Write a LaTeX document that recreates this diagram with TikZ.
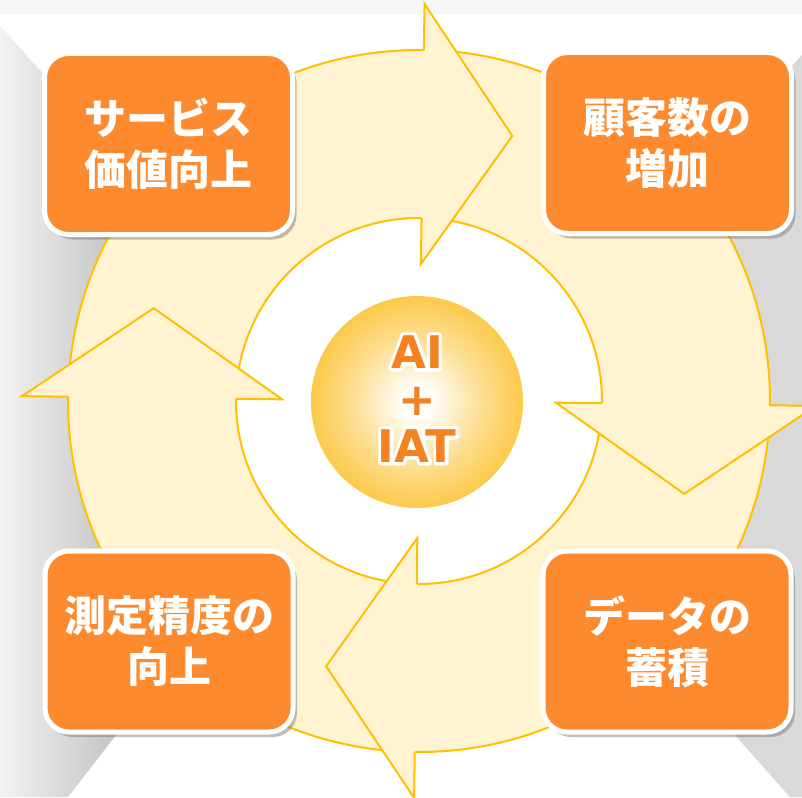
\documentclass[tikz,border=0pt]{standalone}
\usepackage{fontspec}
\setmainfont{DejaVu Sans}
\newfontfamily\jpfont{Noto Sans CJK JP}
\usetikzlibrary{shadows}
\definecolor{cream}{RGB}{255,243,209}
\definecolor{ringline}{RGB}{255,192,0}
\definecolor{boxorange}{RGB}{253,138,46}
\definecolor{txtorange}{RGB}{245,130,32}
\definecolor{ballgold}{RGB}{251,186,24}
\definecolor{wallL}{RGB}{243,243,243}
\definecolor{wallR}{RGB}{196,196,196}
\definecolor{wallG}{RGB}{217,217,217}
\definecolor{topband}{RGB}{246,246,246}
\pgfdeclareradialshading{ballshade}{\pgfpoint{0bp}{0bp}}{color(0bp)=(white); color(3bp)=(white); color(16bp)=(ballgold!50!white); color(32bp)=(ballgold); color(50bp)=(ballgold)}
\newcommand\haloon{\special{pdf:literal direct 2 Tr 6.5 w 1 j}}
\newcommand\halooff{\special{pdf:literal direct 0 Tr}}
\tikzset{
  stepbox/.style={rounded corners=24pt, fill=boxorange, draw=white, line width=5pt,
    minimum width=248pt, minimum height=181pt, inner sep=0pt,
    drop shadow={shadow xshift=4pt, shadow yshift=-5pt, opacity=0.45, fill=black!55},
    font=\jpfont\bfseries\fontsize{42}{51}\selectfont, text=white, align=center},
  centertext/.style={font=\bfseries\fontsize{45}{47}\selectfont, align=center, inner sep=0pt},
}
\begin{document}
\begin{tikzpicture}[x=1pt,y=-1pt]
\useasboundingbox (0,0) rectangle (802,797);
\clip (0,0) rectangle (802,797);
\fill[white] (0,0) rectangle (802,797);
\fill[topband] (0,0) rectangle (802,14);
% walls
\shade[left color=wallL, right color=wallR] (0,26) -- (112,150) -- (116,735) -- (68,797) -- (0,797) -- cycle;
\fill[wallG] (802,55) -- (712,150) -- (733,733) -- (790,797) -- (802,797) -- cycle;
% ring
\begin{scope}[shift={(419,401)}]
  \fill[cream, even odd rule] (0,0) circle[radius=351] (0,0) circle[radius=183];
  \draw[ringline, line width=2pt] (0,0) circle[radius=351] (0,0) circle[radius=183];
  \foreach \b in {-89.2,0.7,90.7,180.7} {
    \fill[cream] (\b:397) -- ({\b+18.6}:281) -- (\b:137) -- cycle;
    \draw[ringline, line width=2pt, line join=miter] (\b:351) -- (\b:397) -- ({\b+18.6}:281) -- (\b:137) -- (\b:183);
  }
  \shade[shading=ballshade] (-2,1) circle[radius=106];
\end{scope}
% center text with white halo
\node[centertext, text=white] (halo) at (417,399) {\haloon AI\halooff\\\haloon +\halooff\\\haloon IAT\halooff};
\node[centertext, text=txtorange] (ctr) at (417,399) {AI\\+\\IAT};
% boxes
\node[stepbox] (tl) at (168.5,144) {サービス\\価値向上};
\node[stepbox] (tr) at (667.5,143) {顧客数の\\増加};
\node[stepbox] (bl) at (169,641.5) {測定精度の\\向上};
\node[stepbox] (br) at (667,641.5) {データの\\蓄積};
\end{tikzpicture}
\end{document}
